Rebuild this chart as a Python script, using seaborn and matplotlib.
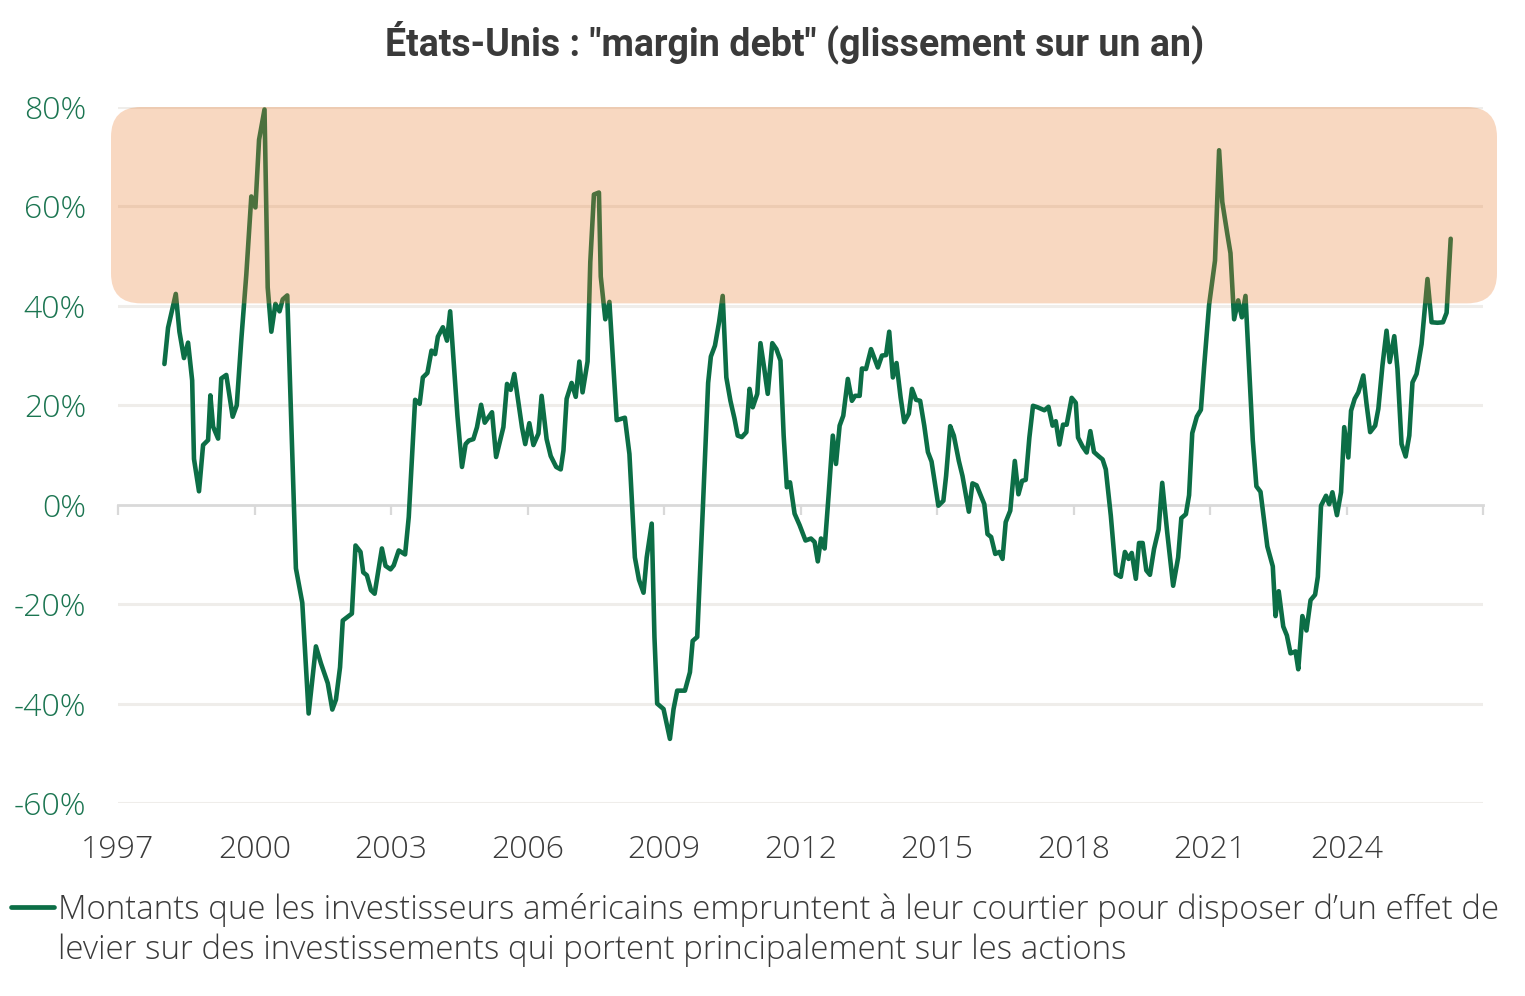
import matplotlib
matplotlib.use("Agg")
import matplotlib.pyplot as plt
from matplotlib.patches import FancyBboxPatch
from matplotlib import font_manager
import seaborn as sns
import pandas as pd

# ---------------- data ----------------
annees = [
    1998.02, 1998.10, 1998.27, 1998.35, 1998.45, 1998.54, 1998.63, 1998.67, 1998.78, 1998.87,
    1998.98, 1999.03, 1999.09, 1999.20, 1999.27, 1999.38, 1999.52, 1999.61, 1999.71, 1999.82,
    1999.93, 2000.02, 2000.10, 2000.22, 2000.29, 2000.37, 2000.46, 2000.55, 2000.62, 2000.72,
    2000.91, 2001.05, 2001.19, 2001.35, 2001.46, 2001.61, 2001.71, 2001.79, 2001.88, 2001.94,
    2002.14, 2002.22, 2002.33, 2002.39, 2002.47, 2002.56, 2002.64, 2002.80, 2002.88, 2002.99,
    2003.06, 2003.17, 2003.31, 2003.39, 2003.53, 2003.63, 2003.70, 2003.80, 2003.89, 2003.97,
    2004.03, 2004.14, 2004.23, 2004.30, 2004.46, 2004.56, 2004.64, 2004.71, 2004.81, 2004.89,
    2004.98, 2005.06, 2005.22, 2005.31, 2005.47, 2005.55, 2005.63, 2005.71, 2005.88, 2005.95,
    2006.04, 2006.13, 2006.24, 2006.31, 2006.42, 2006.51, 2006.63, 2006.73, 2006.79, 2006.86,
    2006.97, 2007.06, 2007.14, 2007.21, 2007.32, 2007.38, 2007.46, 2007.57, 2007.61, 2007.71,
    2007.80, 2007.96, 2008.14, 2008.24, 2008.36, 2008.45, 2008.55, 2008.62, 2008.73, 2008.79,
    2008.85, 2008.99, 2009.13, 2009.21, 2009.29, 2009.46, 2009.57, 2009.63, 2009.73, 2009.85,
    2009.97, 2010.03, 2010.12, 2010.21, 2010.29, 2010.37, 2010.46, 2010.55, 2010.62, 2010.71,
    2010.81, 2010.88, 2010.95, 2011.05, 2011.12, 2011.20, 2011.28, 2011.38, 2011.47, 2011.56,
    2011.63, 2011.70, 2011.77, 2011.87, 2011.98, 2012.11, 2012.23, 2012.31, 2012.38, 2012.45,
    2012.53, 2012.62, 2012.71, 2012.78, 2012.86, 2012.94, 2013.04, 2013.13, 2013.20, 2013.30,
    2013.35, 2013.44, 2013.55, 2013.70, 2013.79, 2013.88, 2013.95, 2014.03, 2014.11, 2014.20,
    2014.28, 2014.38, 2014.45, 2014.54, 2014.63, 2014.72, 2014.80, 2014.88, 2015.03, 2015.14,
    2015.20, 2015.29, 2015.37, 2015.48, 2015.56, 2015.70, 2015.78, 2015.87, 2016.04, 2016.11,
    2016.19, 2016.28, 2016.37, 2016.44, 2016.51, 2016.61, 2016.71, 2016.79, 2016.87, 2016.95,
    2017.03, 2017.11, 2017.21, 2017.36, 2017.45, 2017.54, 2017.61, 2017.69, 2017.77, 2017.85,
    2017.96, 2018.05, 2018.10, 2018.20, 2018.29, 2018.37, 2018.45, 2018.56, 2018.64, 2018.71,
    2018.82, 2018.93, 2019.04, 2019.13, 2019.21, 2019.28, 2019.37, 2019.44, 2019.52, 2019.60,
    2019.68, 2019.77, 2019.87, 2019.95, 2020.06, 2020.19, 2020.30, 2020.37, 2020.47, 2020.54,
    2020.61, 2020.71, 2020.80, 2020.87, 2020.98, 2021.11, 2021.20, 2021.27, 2021.38, 2021.45,
    2021.53, 2021.62, 2021.70, 2021.78, 2021.87, 2021.94, 2022.02, 2022.11, 2022.26, 2022.38,
    2022.44, 2022.51, 2022.61, 2022.69, 2022.77, 2022.88, 2022.94, 2023.03, 2023.12, 2023.21,
    2023.31, 2023.37, 2023.44, 2023.55, 2023.62, 2023.69, 2023.79, 2023.88, 2023.95, 2024.04,
    2024.10, 2024.18, 2024.26, 2024.37, 2024.44, 2024.52, 2024.63, 2024.70, 2024.79, 2024.88,
    2024.95, 2025.05, 2025.12, 2025.21, 2025.30, 2025.38, 2025.45, 2025.54, 2025.65, 2025.78,
    2025.87, 2026.00, 2026.12, 2026.20, 2026.29,
]
glissement = [
    28.3, 35.6, 42.4, 34.8, 29.5, 32.6, 25.0, 9.2, 2.7, 12.0,
    13.0, 22.0, 15.7, 13.3, 25.4, 26.1, 17.7, 20.0, 33.2, 46.3,
    62.0, 59.8, 73.4, 79.5, 43.7, 34.8, 40.4, 38.9, 41.3, 42.1,
    -12.8, -19.7, -42.0, -28.5, -31.9, -35.9, -41.2, -39.2, -32.7, -23.3,
    -21.9, -8.2, -9.5, -13.6, -14.2, -17.2, -17.9, -8.8, -12.3, -13.0,
    -12.2, -9.2, -10.0, -2.5, 21.1, 20.3, 25.6, 26.5, 31.0, 30.3,
    33.8, 35.7, 33.0, 38.9, 17.9, 7.6, 12.2, 12.9, 13.2, 15.6,
    20.1, 16.5, 18.6, 9.6, 15.6, 24.3, 23.1, 26.3, 15.5, 12.2,
    16.4, 12.0, 14.3, 21.9, 13.2, 9.8, 7.6, 7.1, 10.9, 21.3,
    24.5, 21.7, 28.8, 22.6, 28.8, 48.8, 62.4, 62.8, 45.9, 37.3,
    40.8, 17.0, 17.5, 10.2, -10.6, -15.1, -17.7, -10.6, -3.8, -26.6,
    -40.0, -41.1, -47.1, -41.1, -37.4, -37.4, -33.7, -27.4, -26.6, -1.5,
    24.5, 29.8, 32.0, 36.7, 42.0, 25.6, 20.9, 17.3, 13.9, 13.6,
    14.6, 23.3, 19.6, 22.3, 32.5, 27.6, 22.3, 32.5, 31.3, 29.0,
    13.9, 3.5, 4.5, -1.8, -4.1, -7.2, -6.8, -7.5, -11.4, -6.8,
    -8.8, 2.2, 13.9, 8.2, 15.9, 17.9, 25.3, 20.9, 21.9, 21.9,
    27.4, 27.3, 31.3, 27.6, 30.0, 30.1, 34.8, 25.6, 28.5, 21.6,
    16.6, 18.3, 23.3, 21.1, 20.9, 15.9, 10.6, 8.7, -0.2, 0.8,
    5.8, 15.8, 13.9, 8.8, 5.8, -1.4, 4.3, 3.9, 0.1, -5.9,
    -6.5, -9.9, -9.5, -10.9, -3.5, -1.2, 8.8, 2.1, 4.8, 5.0,
    13.5, 19.9, 19.6, 19.0, 19.7, 15.9, 16.8, 12.1, 16.1, 16.1,
    21.5, 20.5, 13.5, 11.7, 10.5, 14.8, 10.6, 9.7, 9.1, 7.1,
    -2.2, -13.9, -14.5, -9.5, -10.9, -9.7, -14.9, -7.7, -7.7, -13.2,
    -14.1, -8.9, -5.0, 4.4, -5.6, -16.3, -10.6, -2.7, -1.9, 1.9,
    14.4, 17.7, 19.1, 27.7, 40.2, 49.1, 71.3, 60.9, 54.5, 50.6,
    37.3, 41.1, 37.7, 42.0, 25.9, 13.0, 3.7, 2.6, -8.4, -12.4,
    -22.4, -17.4, -24.5, -26.3, -29.9, -29.5, -33.1, -22.4, -25.3, -19.2,
    -18.1, -14.5, -0.2, 1.8, 0.1, 2.5, -2.1, 2.5, 15.6, 9.5,
    18.9, 21.3, 22.6, 26.0, 20.3, 14.6, 15.9, 19.3, 28.0, 35.0,
    28.7, 33.9, 27.3, 12.2, 9.7, 13.9, 24.6, 26.3, 32.3, 45.4,
    36.7, 36.6, 36.7, 38.6, 53.5,
]
annees_ticks = [1997, 2000, 2003, 2006, 2009, 2012, 2015, 2018, 2021, 2024]
y_ticks = [-60, -40, -20, 0, 20, 40, 60, 80]
zone_haute = (40.5, 80)  # shaded band, % range

titre = 'États-Unis : "margin debt" (glissement sur un an)'
legende_l1 = "Montants que les investisseurs américains empruntent à leur courtier pour disposer d\u2019un effet de"
legende_l2 = "levier sur des investissements qui portent principalement sur les actions"

# ---------------- style ----------------
VERT = "#0c6e46"
VERT_TXT = "#1b7551"
GRIS_TXT = "#3a3a3a"
GRILLE = "#efedea"
AXE0 = "#d9d9d9"

sns.set_theme(style="white")
plt.rcParams["font.family"] = ["Open Sans", "DejaVu Sans"]

# pick a light-ish weight that exists for Open Sans
weights = {f.weight for f in font_manager.fontManager.ttflist if f.name == "Open Sans"}
W_LIGHT = 300 if any(str(w) in ("300", "light") or w == 300 for w in weights) else "normal"

W, H = 1525, 996
fig = plt.figure(figsize=(W / 100, H / 100), dpi=100)
ax = fig.add_axes([118 / W, 1 - 803 / H, (1483 - 118) / W, (803 - 107) / H])

df = pd.DataFrame({"annee": annees, "glissement": glissement})
sns.lineplot(data=df, x="annee", y="glissement", ax=ax, color=VERT, lw=3.3,
             estimator=None, sort=False, label="_nolegend_", zorder=3)
ax.lines[0].set_clip_on(False)
ax.lines[0].set_solid_joinstyle("round")
ax.lines[0].set_solid_capstyle("round")

ax.set_xlim(1997, 2027)
ax.set_ylim(-60, 80)
ax.set_xlabel("")
ax.set_ylabel("")
for s in ax.spines.values():
    s.set_visible(False)

FS = 23
FS_LEG = 23.8
ax.set_yticks(y_ticks)
ax.set_yticklabels([f"{v}%" for v in y_ticks])
ax.set_xticks(annees_ticks)
ax.set_xticklabels([str(a) for a in annees_ticks])
ax.tick_params(axis="y", length=0, pad=23, labelsize=FS, labelcolor=VERT_TXT)
ax.tick_params(axis="x", length=0, pad=22, labelsize=FS, labelcolor=GRIS_TXT)
for t in ax.get_xticklabels() + ax.get_yticklabels():
    t.set_fontweight(W_LIGHT)

ax.grid(False)
for v in y_ticks:
    if v != 0:
        ax.axhline(v, color=GRILLE, lw=2.2, zorder=1)

# zero axis with downward ticks
sec = ax.secondary_xaxis(60 / 140)
sec.set_xticks(annees_ticks + [2027])
sec.tick_params(axis="x", direction="out", length=7, width=1.6, color=AXE0,
                labelbottom=False, labeltop=False)
for k, s in sec.spines.items():
    if k == "bottom":
        s.set_visible(True)
        s.set_color(AXE0)
        s.set_linewidth(2.0)
    else:
        s.set_visible(False)

# shaded zone 40-80 %, rounded rectangle above the line
x0 = 1997 + (111 - 118) / 45.5
x1 = 1997 + (1497 - 118) / 45.5
r_x = 30 / 45.5
r_y = 30 / 4.97
band = FancyBboxPatch((x0, zone_haute[0]), x1 - x0, zone_haute[1] - zone_haute[0],
                      boxstyle=f"round,pad=0,rounding_size={r_x}",
                      mutation_aspect=r_y / r_x,
                      facecolor=(234 / 255, 121 / 255, 43 / 255), alpha=0.29,
                      edgecolor="none", zorder=4, clip_on=False)
ax.add_patch(band)

# title
fig.text(795 / W, 1 - 42 / H, titre, ha="center", va="center", fontsize=27,
         fontweight="bold", color=GRIS_TXT, family=["Roboto", "DejaVu Sans"])

# legend
handle = plt.Line2D([], [], color=VERT, lw=3.4)
leg = fig.legend([handle], [legende_l1], loc="upper left",
                 bbox_to_anchor=(11 / W, 1 - 893 / H), frameon=False,
                 fontsize=FS_LEG, handlelength=1.3, handletextpad=0.12,
                 borderpad=0, borderaxespad=0, labelcolor=GRIS_TXT)
for t in leg.get_texts():
    t.set_fontweight(W_LIGHT)
fig.canvas.draw()
bb = leg.get_texts()[0].get_window_extent()
fig.text(bb.x0 / W, (bb.y0 - 40) / H, legende_l2, ha="left", va="bottom",
         fontsize=FS_LEG, fontweight=W_LIGHT, color=GRIS_TXT)

fig.savefig("out.png", dpi=100)
